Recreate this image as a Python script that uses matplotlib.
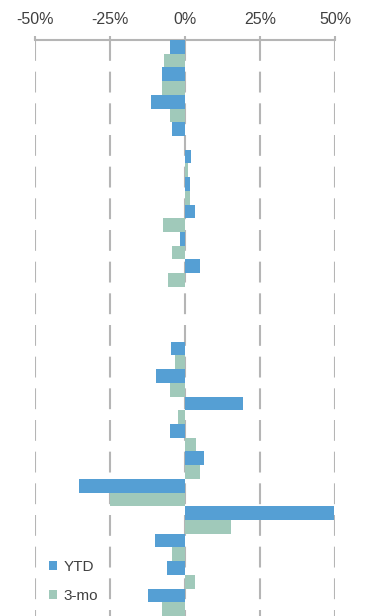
import numpy as np
import matplotlib
matplotlib.use("Agg")
import matplotlib.pyplot as plt
from matplotlib.patches import Patch

plt.rcParams['font.family'] = ['Liberation Sans', 'DejaVu Sans']

# Returns by row (percent); blank rows separate the two groups
ytd = [-5.0, -7.7, -11.3, -4.3, 2.0, 1.7, 3.3, -1.7, 5.0, np.nan, np.nan,
       -4.7, -9.7, 19.3, -5.0, 6.3, -35.3, 49.7, -10.0, -6.0, -12.3]
three_mo = [-7.0, -7.7, -5.0, 0.0, 0.9, 1.7, -7.3, -4.3, -5.7, np.nan, np.nan,
            -3.3, -5.0, -2.3, 3.7, 5.0, -25.0, 15.3, -4.3, 3.3, -7.7]
x_ticks = [-50, -25, 0, 25, 50]
x_tick_labels = ['-50%', '-25%', '0%', '25%', '50%']
series_names = ['YTD', '3-mo']

BLUE = '#559FD4'
GREEN = '#A0C9BA'
GRID = '#B5B5B5'
TEXT = '#404040'

W, H, DPI = 366, 616, 100
fig = plt.figure(figsize=(W / DPI, H / DPI), dpi=DPI)
ax = fig.add_axes([35 / W, 0, 300 / W, 576 / H])

n = len(ytd)
pos = np.arange(n)
ax.barh(pos - 0.25, ytd, height=0.5, color=BLUE, zorder=3, label=series_names[0])
ax.barh(pos + 0.25, three_mo, height=0.5, color=GREEN, zorder=3, label=series_names[1])

ax.set_xlim(-50, 50)
ax.set_ylim(n - 0.5, -0.5)

# dashed vertical guides, drawn top-down so the dash pattern starts at the axis
for xv in x_ticks:
    ax.axvline(xv, ymin=1, ymax=0, color=GRID, lw=1.5,
               dashes=(10.0, 5.2), zorder=1)

for side in ('left', 'right', 'bottom'):
    ax.spines[side].set_visible(False)
ax.spines['top'].set_color(GRID)
ax.spines['top'].set_linewidth(1.5)

ax.xaxis.tick_top()
ax.set_xticks(x_ticks)
ax.set_xticklabels(x_tick_labels)
ax.tick_params(axis='x', which='major', direction='out', length=3,
               width=1.5, color=GRID, labelsize=11.5, labelcolor=TEXT, pad=6)
ax.set_yticks([])

handles = [Patch(facecolor=BLUE, edgecolor='none'),
           Patch(facecolor=GREEN, edgecolor='none')]
leg = fig.legend(handles, series_names, loc='upper left',
                 bbox_to_anchor=(49 / W, 1 - 560 / H),
                 frameon=False, fontsize=11, handlelength=0.52,
                 handleheight=0.52, handletextpad=0.42, labelspacing=0.95,
                 borderpad=0, borderaxespad=0)
for t in leg.get_texts():
    t.set_color(TEXT)

fig.savefig('out.png', dpi=DPI)
